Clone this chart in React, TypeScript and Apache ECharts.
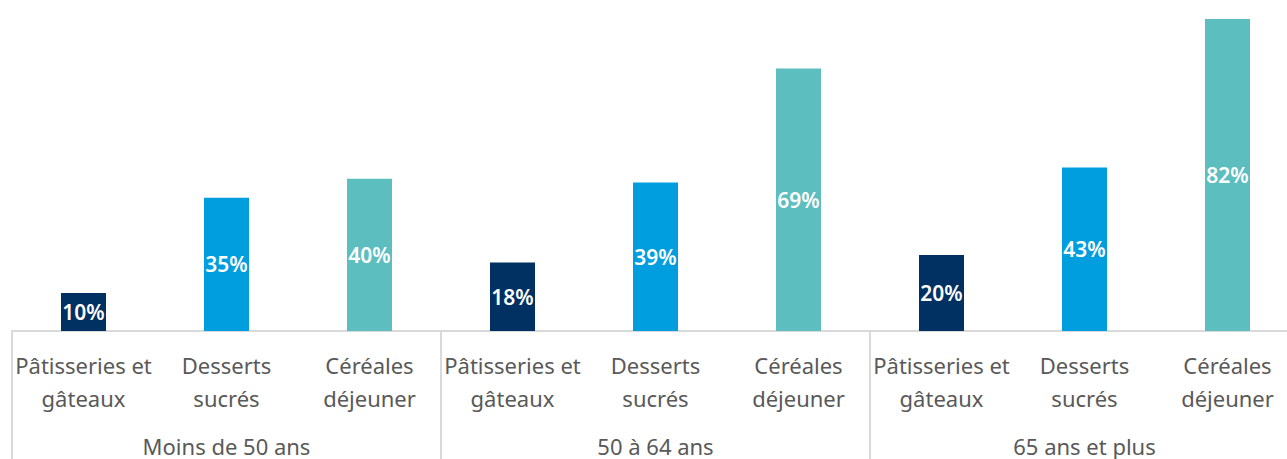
import React, { useEffect, useRef } from "react";
import * as echarts from "echarts";

const groups = ["Moins de 50 ans", "50 à 64 ans", "65 ans et plus"];
const products = ["Pâtisseries et\ngâteaux", "Desserts\nsucrés", "Céréales\ndéjeuner"];
const productColors = ["#003162", "#009DDF", "#5CBEBF"];
const values = [10, 35, 40, 18, 39, 69, 20, 43, 82];

const FONT = "Noto Sans";

export default function App() {
  const ref = useRef<HTMLDivElement>(null);
  useEffect(() => {
    if (!ref.current) return;
    const chart = echarts.init(ref.current, null, { renderer: "svg" });
    const cats: string[] = [];
    groups.forEach(() => products.forEach((p) => cats.push(p)));
    chart.setOption({
      animation: false,
      grid: { left: 12, right: 0, top: 19, bottom: 128, containLabel: false },
      xAxis: [
        {
          type: "category",
          data: cats,
          position: "bottom",
          axisLine: { show: true, lineStyle: { color: "#D9D9D9", width: 2 } },
          axisTick: { show: false },
          axisLabel: {
            interval: 0,
            color: "#595959",
            fontFamily: FONT,
            fontSize: 22,
            lineHeight: 33,
            margin: 17,
          },
        },
        {
          type: "category",
          data: groups,
          position: "bottom",
          axisLine: { show: false },
          axisTick: { show: true, length: 128, lineStyle: { color: "#D9D9D9", width: 2 } },
          axisLabel: {
            interval: 0,
            color: "#595959",
            fontFamily: FONT,
            fontSize: 22,
            margin: 104,
          },
        },
      ],
      yAxis: { type: "value", min: 0, max: 82, show: false, splitLine: { show: false } },
      series: [
        {
          type: "bar",
          xAxisIndex: 0,
          barWidth: 45,
          data: values.map((v, i) => ({
            value: v,
            itemStyle: { color: productColors[i % 3] },
          })),
          label: {
            show: true,
            position: "inside",
            formatter: "{c}%",
            color: "#FFFFFF",
            fontFamily: FONT,
            fontSize: 21,
            fontWeight: 600,
          },
        },
      ],
    });
    return () => chart.dispose();
  }, []);
  return (
    <div
      ref={ref}
      style={{ position: "fixed", left: 0, top: 0, width: 1299, height: 459, background: "#fff" }}
    />
  );
}
